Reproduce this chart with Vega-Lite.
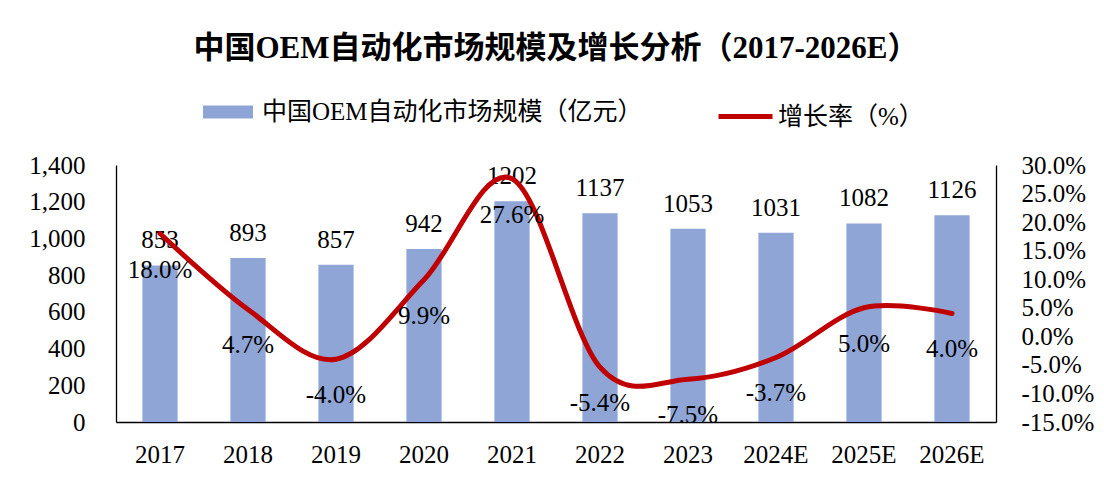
{
  "$schema": "https://vega.github.io/schema/vega-lite/v6.json",
  "width": 880,
  "height": 257,
  "autosize": {"type": "none"},
  "padding": {"left": 116, "top": 165, "right": 108, "bottom": 57},
  "background": "#ffffff",
  "title": {
    "text": "中国OEM自动化市场规模及增长分析（2017-2026E）",
    "anchor": "middle",
    "font": "Liberation Serif, Noto Sans CJK SC",
    "fontSize": 31,
    "fontWeight": "bold",
    "color": "#000000",
    "offset": 22
  },
  "data": {
    "values": [
      {"year": "2017", "size": 853, "growth": 0.180},
      {"year": "2018", "size": 893, "growth": 0.047},
      {"year": "2019", "size": 857, "growth": -0.040},
      {"year": "2020", "size": 942, "growth": 0.099},
      {"year": "2021", "size": 1202, "growth": 0.276},
      {"year": "2022", "size": 1137, "growth": -0.054},
      {"year": "2023", "size": 1053, "growth": -0.075},
      {"year": "2024E", "size": 1031, "growth": -0.037},
      {"year": "2025E", "size": 1082, "growth": 0.050},
      {"year": "2026E", "size": 1126, "growth": 0.040}
    ]
  },
  "encoding": {
    "x": {
      "field": "year",
      "type": "nominal",
      "sort": null,
      "scale": {"paddingInner": 0.6, "paddingOuter": 0.3},
      "axis": {
        "title": null,
        "labelAngle": 0,
        "labelFont": "Liberation Serif",
        "labelFontSize": 25,
        "labelColor": "#000000",
        "labelPadding": 20,
        "ticks": false,
        "domainColor": "#000000",
        "domainWidth": 1.3
      }
    }
  },
  "layer": [
    {
      "encoding": {
        "y": {
          "field": "size",
          "type": "quantitative",
          "scale": {"domain": [0, 1400], "nice": false},
          "axis": {
            "title": null,
            "values": [0, 200, 400, 600, 800, 1000, 1200, 1400],
            "format": ",.0f",
            "grid": false,
            "ticks": false,
            "labelFont": "Liberation Serif",
            "labelFontSize": 25,
            "labelColor": "#000000",
            "labelPadding": 31,
            "domainColor": "#000000",
            "domainWidth": 1.3
          }
        }
      },
      "layer": [
        {
          "mark": {"type": "bar", "color": "#8FA5D5"},
          "encoding": {
            "color": {
              "datum": "中国OEM自动化市场规模（亿元）",
              "scale": {"range": ["#8FA5D5"]},
              "legend": {
                "title": null,
                "orient": "none",
                "legendX": 87,
                "legendY": -78,
                "symbolType": "M-1,-0.26H1V0.26H-1Z",
                "symbolSize": 2500,
                "symbolStrokeWidth": 0,
                "labelOffset": 9,
                "labelFont": "Liberation Serif, Noto Sans CJK SC",
                "labelFontSize": 25,
                "labelColor": "#000000",
                "labelLimit": 600
              }
            }
          }
        },
        {
          "mark": {"type": "text", "font": "Liberation Serif", "fontSize": 25, "baseline": "alphabetic", "dy": -17, "color": "#000000"},
          "encoding": {"text": {"field": "size", "type": "quantitative", "format": "d"}}
        }
      ]
    },
    {
      "encoding": {
        "y": {
          "field": "growth",
          "type": "quantitative",
          "scale": {"domain": [-0.15, 0.30], "nice": false},
          "axis": {
            "orient": "right",
            "title": null,
            "values": [-0.15, -0.10, -0.05, 0, 0.05, 0.10, 0.15, 0.20, 0.25, 0.30],
            "format": ".1%",
            "grid": false,
            "ticks": false,
            "labelFont": "Liberation Serif",
            "labelFontSize": 25,
            "labelColor": "#000000",
            "labelPadding": 25,
            "domainColor": "#000000",
            "domainWidth": 1.3
          }
        }
      },
      "layer": [
        {
          "mark": {"type": "line", "interpolate": "cardinal", "tension": 0, "strokeWidth": 5, "strokeCap": "round", "strokeJoin": "round"},
          "encoding": {
            "stroke": {
              "datum": "增长率（%）",
              "scale": {"range": ["#C00000"]},
              "legend": {
                "title": null,
                "orient": "none",
                "legendX": 600,
                "legendY": -78,
                "symbolType": "M-1,0H1",
                "symbolSize": 2916,
                "symbolStrokeWidth": 5,
                "symbolFillColor": "transparent",
                "labelOffset": 3,
                "labelFont": "Liberation Serif, Noto Sans CJK SC",
                "labelFontSize": 25,
                "labelColor": "#000000",
                "labelLimit": 600
              }
            }
          }
        },
        {
          "mark": {"type": "text", "font": "Liberation Serif", "fontSize": 25, "baseline": "alphabetic", "dy": 44, "color": "#000000"},
          "encoding": {"text": {"field": "growth", "type": "quantitative", "format": ".1%"}}
        }
      ]
    }
  ],
  "resolve": {"scale": {"y": "independent"}},
  "config": {
    "view": {"stroke": null},
    "locale": {
      "number": {"decimal": ".", "thousands": ",", "grouping": [3], "currency": ["", ""], "minus": "-"}
    }
  }
}
